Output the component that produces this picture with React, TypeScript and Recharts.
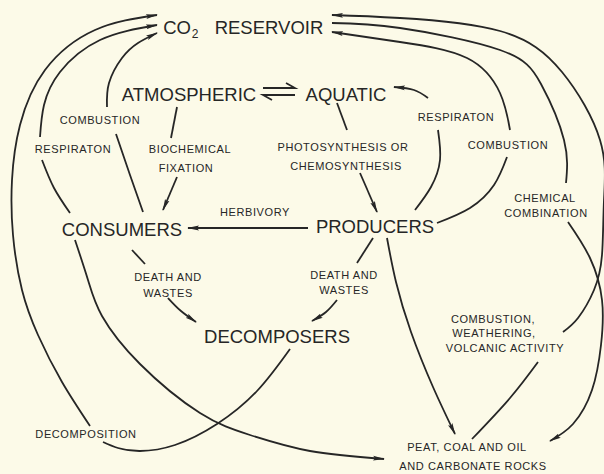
import React from 'react';
import { ComposedChart, XAxis, YAxis, Line, Scatter } from 'recharts';

// Node labels (diagram coordinates: x across, y down)
const bigLabels = [
  { text: 'CO', x: 177, y: 27 },
  { text: 'RESERVOIR', x: 269, y: 27 },
  { text: 'ATMOSPHERIC', x: 189, y: 94 },
  { text: 'AQUATIC', x: 346, y: 94 },
  { text: 'CONSUMERS', x: 122, y: 229 },
  { text: 'PRODUCERS', x: 375, y: 226 },
  { text: 'DECOMPOSERS', x: 277, y: 336 },
];

const subLabels = [{ text: '2', x: 195, y: 34 }];

const smallLabels = [
  { text: 'COMBUSTION', x: 100, y: 120 },
  { text: 'RESPIRATON', x: 73, y: 149 },
  { text: 'BIOCHEMICAL', x: 190, y: 149 },
  { text: 'FIXATION', x: 186, y: 168 },
  { text: 'PHOTOSYNTHESIS OR', x: 343, y: 147 },
  { text: 'CHEMOSYNTHESIS', x: 346, y: 166 },
  { text: 'RESPIRATON', x: 456, y: 117 },
  { text: 'COMBUSTION', x: 508, y: 145 },
  { text: 'HERBIVORY', x: 255, y: 212 },
  { text: 'CHEMICAL', x: 545, y: 198 },
  { text: 'COMBINATION', x: 546, y: 213 },
  { text: 'DEATH AND', x: 168, y: 277 },
  { text: 'WASTES', x: 168, y: 293 },
  { text: 'DEATH AND', x: 344, y: 275 },
  { text: 'WASTES', x: 344, y: 290 },
  { text: 'COMBUSTION,', x: 493, y: 319 },
  { text: 'WEATHERING,', x: 494, y: 333 },
  { text: 'VOLCANIC ACTIVITY', x: 505, y: 348 },
  { text: 'DECOMPOSITION', x: 86, y: 434 },
  { text: 'PEAT, COAL AND OIL', x: 467, y: 447 },
  { text: 'AND CARBONATE ROCKS', x: 473, y: 466 },
];

type Flow = { id: string; arrow: boolean; curve: 'natural' | 'linear'; pts: number[][] };

const flows: Flow[] = [
  { id: 'decomp-co2', arrow: true, curve: 'natural', pts: [[90, 426], [62, 382], [38, 335], [22, 290], [13, 235], [12, 180], [20, 125], [45, 70], [95, 30], [157, 15]] },
  { id: 'resp-l-lo', arrow: false, curve: 'natural', pts: [[70, 213], [54, 188], [42, 160]] },
  { id: 'resp-l-up', arrow: true, curve: 'natural', pts: [[40, 137], [44, 105], [60, 72], [100, 40], [157, 25]] },
  { id: 'comb-l-lo', arrow: false, curve: 'natural', pts: [[143, 212], [130, 175], [116, 134]] },
  { id: 'comb-l-up', arrow: true, curve: 'natural', pts: [[107, 107], [109, 83], [122, 58], [138, 43], [157, 33]] },
  { id: 'fix-up', arrow: false, curve: 'linear', pts: [[177, 107], [171, 138]] },
  { id: 'fix-lo', arrow: true, curve: 'linear', pts: [[177, 177], [163, 210]] },
  { id: 'photo-up', arrow: false, curve: 'linear', pts: [[337, 103], [347, 130]] },
  { id: 'photo-lo', arrow: true, curve: 'linear', pts: [[360, 173], [377, 212]] },
  { id: 'herb', arrow: true, curve: 'linear', pts: [[308, 228], [188, 228]] },
  { id: 'resp-r-lo', arrow: false, curve: 'natural', pts: [[415, 210], [431, 187], [440, 160], [438, 130]] },
  { id: 'resp-r-up', arrow: true, curve: 'natural', pts: [[428, 98], [414, 90], [394, 87]] },
  { id: 'comb-r-lo', arrow: false, curve: 'natural', pts: [[437, 223], [470, 208], [494, 185], [507, 157]] },
  { id: 'comb-r-up', arrow: true, curve: 'natural', pts: [[510, 130], [500, 93], [467, 58], [400, 42], [332, 32]] },
  { id: 'chem-up', arrow: false, curve: 'natural', pts: [[332, 23], [400, 28], [500, 50], [541, 84], [564, 140], [566, 183]] },
  { id: 'chem-lo', arrow: true, curve: 'natural', pts: [[568, 222], [590, 258], [602, 300], [601, 345], [592, 390], [573, 424], [550, 441]] },
  { id: 'weath-lo', arrow: false, curve: 'natural', pts: [[472, 439], [510, 398], [538, 362]] },
  { id: 'weath-up', arrow: true, curve: 'natural', pts: [[563, 332], [578, 318], [594, 290], [602, 255], [604, 200], [600, 140], [562, 72], [500, 31], [400, 18], [332, 15]] },
  { id: 'cons-peat', arrow: true, curve: 'natural', pts: [[75, 240], [88, 280], [102, 316], [140, 364], [200, 413], [250, 435], [310, 451], [384, 459]] },
  { id: 'decomposers-decomp', arrow: false, curve: 'natural', pts: [[290, 349], [257, 391], [217, 424], [175, 445], [140, 451], [118, 448], [103, 442]] },
  { id: 'prod-peat', arrow: true, curve: 'natural', pts: [[387, 238], [396, 282], [411, 332], [433, 387], [455, 434]] },
  { id: 'death-l-up', arrow: false, curve: 'linear', pts: [[132, 250], [145, 264]] },
  { id: 'death-l-lo', arrow: true, curve: 'natural', pts: [[168, 298], [181, 311], [196, 322]] },
  { id: 'death-r-up', arrow: false, curve: 'linear', pts: [[373, 238], [357, 263]] },
  { id: 'death-r-lo', arrow: true, curve: 'natural', pts: [[337, 300], [326, 312], [312, 321]] },
  { id: 'eq-top', arrow: false, curve: 'linear', pts: [[263, 88], [295, 88], [286, 83]] },
  { id: 'eq-bot', arrow: false, curve: 'linear', pts: [[295, 95], [263, 95], [272, 100]] },
];

const INK = '#262626';
const FONT = '"Liberation Sans", Arial, sans-serif';

const makeShape = (size: number, spacing: number) => (props: any) => {
  const { cx, cy, payload } = props;
  return (
    <text
      x={cx}
      y={cy}
      textAnchor="middle"
      dominantBaseline="central"
      fontFamily={FONT}
      fontSize={size}
      letterSpacing={spacing}
      fill={INK}
    >
      {payload.text}
    </text>
  );
};

export default function App() {
  return (
    <div style={{ position: 'absolute', left: 0, top: 0, width: 604, height: 474, background: '#fcfae8' }}>
      <ComposedChart width={604} height={474} margin={{ top: 0, right: 0, bottom: 0, left: 0 }}>
        <defs>
          <marker id="ah" viewBox="0 0 12 6" refX="11" refY="3" markerWidth="12" markerHeight="6" markerUnits="userSpaceOnUse" orient="auto">
            <path d="M0,0.6 L12,3 L0,5.4 L2,3 Z" fill={INK} />
          </marker>
        </defs>
        <XAxis type="number" dataKey="x" domain={[0, 604]} allowDataOverflow hide />
        <YAxis type="number" dataKey="y" domain={[0, 474]} allowDataOverflow reversed hide />
        {flows.map((f) => (
          <Line
            key={f.id}
            data={f.pts.map(([x, y]) => ({ x, y }))}
            dataKey="y"
            type={f.curve}
            stroke={INK}
            strokeWidth={1.8}
            dot={false}
            activeDot={false}
            markerEnd={f.arrow ? 'url(#ah)' : undefined}
            isAnimationActive={false}
          />
        ))}
        <Scatter data={bigLabels} dataKey="y" shape={makeShape(18.5, 0)} isAnimationActive={false} />
        <Scatter data={subLabels} dataKey="y" shape={makeShape(12, 0)} isAnimationActive={false} />
        <Scatter data={smallLabels} dataKey="y" shape={makeShape(11, 0.6)} isAnimationActive={false} />
      </ComposedChart>
    </div>
  );
}
